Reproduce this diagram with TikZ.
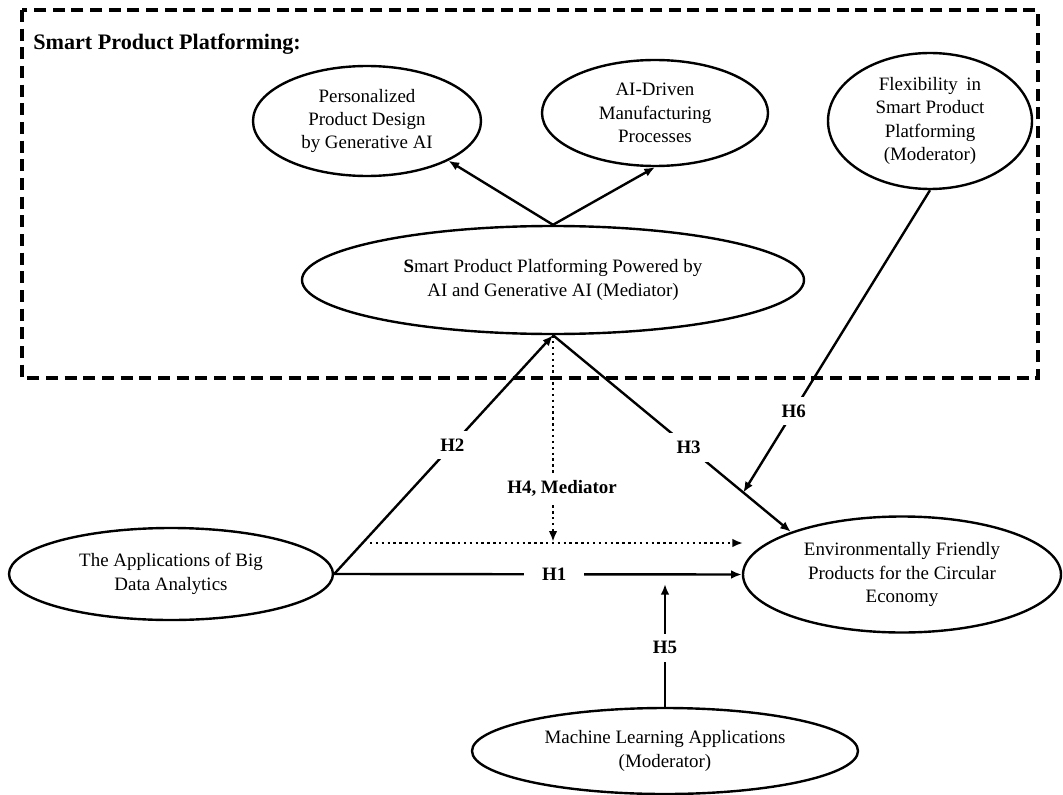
\documentclass[tikz,border=0pt]{standalone}
\usepackage{fontspec}
\setmainfont{Liberation Serif}
\usetikzlibrary{shapes.geometric,arrows.meta,calc}
\begin{document}
\begin{tikzpicture}[x=0.75pt,y=-0.75pt,
  oval/.style={ellipse,draw,line width=1.8pt,inner sep=0pt,align=center,font=\fontsize{14.2}{17.5}\selectfont},
  conn/.style={line width=1.8pt,-{Latex[length=8pt,width=6.5pt]}},
  dots/.style={line width=2.2pt,dash pattern=on 1.8pt off 2.6pt,-{Latex[length=8pt,width=6.5pt]}},
  hlab/.style={fill=white,font=\fontsize{14.2}{17}\selectfont\bfseries,inner sep=6pt},
  frame/.style={line width=2.4pt,dash pattern=on 9pt off 5pt}]
\useasboundingbox (0,0) rectangle (1063,795);

% dashed frame
\draw[frame] (22,10) rectangle (1038,378);
\node[anchor=base west,font=\fontsize{16.6}{20}\selectfont\bfseries,inner sep=0pt] (title) at (33,50) {Smart Product Platforming:};

% nodes
\node[oval,minimum width=171pt,minimum height=82.5pt] (pers) at (367,121) {Personalized\\Product Design\\by Generative AI};
\node[oval,minimum width=169.5pt,minimum height=79.5pt] (aid) at (655,113) {AI-Driven\\Manufacturing\\Processes};
\node[oval,minimum width=153pt,minimum height=102pt] (flex) at (930,121) {Flexibility\hspace{0.45em}in\\Smart Product\\Platforming\\(Moderator)};
\node[oval,minimum width=376.5pt,minimum height=81pt] (med) at (553,280) {\textbf{S}mart Product Platforming Powered by\\AI and Generative AI (Mediator)};
\node[oval,minimum width=243pt,minimum height=69pt] (bd) at (171,574) {The Applications of Big\\Data Analytics};
\node[oval,minimum width=238.5pt,minimum height=87pt] (env) at (902,574.5) {Environmentally Friendly\\Products for the Circular\\Economy};
\node[oval,minimum width=289.5pt,minimum height=64.5pt] (ml) at (665,751) {Machine Learning Applications\\(Moderator)};

% free ends
\coordinate (dA) at (370,543);
\coordinate (dB) at (743,543);
\coordinate (h6t) at ($(med.south)!0.80!(env.159)$);
\coordinate (h5t) at (665,584);

% connectors inside the frame
\draw[conn] (med.north) -- (pers.-26);
\draw[conn] (med.north) -- (aid.south);

% mediation (dotted)
\draw[dots] (dA) -- (dB);
\draw[dots,shorten >=1pt] (med.south) -- (med.south |- dA);
\node[hlab,inner sep=5pt] (h4) at (562,488) {H4, Mediator};

% hypotheses
\draw[conn] (bd.east) -- node[hlab,pos=0.54,inner xsep=13.5pt] (h1) {H1} (env.west);
\draw[conn] (bd.east) -- node[hlab,pos=0.54] (h2) {H2} (med.south);
\draw[conn] (med.south) -- node[hlab,pos=0.57] (h3) {H3} (env.159);
\draw[conn] (flex.south) -- node[hlab,pos=0.73] (h6) {H6} (h6t);
\draw[conn] (ml.north) -- node[hlab,pos=0.48] (h5) {H5} (h5t);
\end{tikzpicture}
\end{document}
